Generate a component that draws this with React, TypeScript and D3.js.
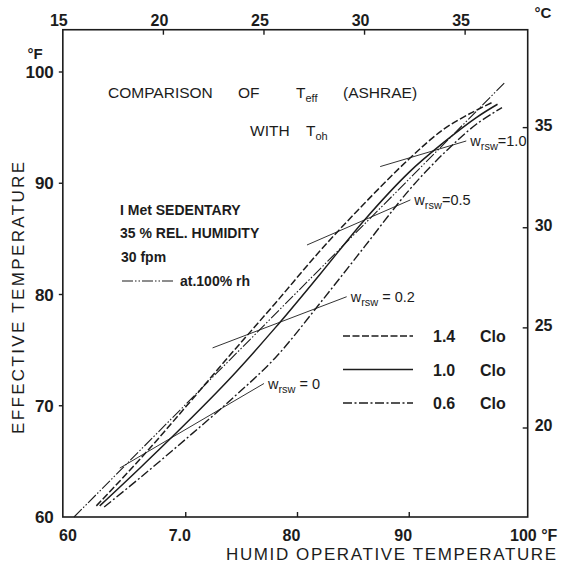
import React from 'react';
import * as d3 from 'd3';

// humid operative temperature (°F) vs effective temperature (°F)
const toh14 = [62.0, 66, 70, 74, 78, 82, 86, 90, 93, 95.5, 97.5];
const et14 = [61.0, 65.3, 69.9, 74.6, 79.2, 83.9, 88.2, 92.2, 94.8, 96.3, 97.3];
const toh10 = [62.3, 66, 70, 74, 78, 82, 86, 90, 93, 96, 97.9];
const et10 = [61.0, 64.5, 68.4, 72.5, 77.0, 81.8, 86.7, 91.0, 93.6, 95.9, 97.1];
const toh06 = [62.7, 66, 70, 74, 78, 82, 86, 90, 93, 96, 98.3];
const et06 = [60.9, 63.6, 67.0, 70.5, 74.3, 79.2, 84.3, 89.4, 92.6, 95.3, 96.8];
// at 100% rh
const toh100 = [60, 98.6];
const et100 = [60, 99.1];

// iso-wettedness lines
const wrswValues = ['0', '0.2', '0.5', '1.0'];
const wrswToh = [[64.1, 77.0], [72.4, 84.4], [80.85, 90.1], [87.4, 95.1]];
const wrswEt = [[64.4, 72.0], [75.2, 79.8], [84.45, 88.5], [91.5, 93.8]];

const fTicks = [60, 70, 80, 90, 100];
const fTickLabels = ['60', '7.0', '80', '90', '100 °F'];
const etTicks = [60, 70, 80, 90, 100];
const cRightTicks = [20, 25, 30, 35];
const cTopTicks = [15, 20, 25, 30, 35];

const cloLabels = ['1.4', '1.0', '0.6'];

const FONT = "'Liberation Sans', Arial, Helvetica, sans-serif";
const INK = '#1c1c1c';

const c2f = (c: number) => (c * 9) / 5 + 32;

const App: React.FC = () => {
  const width = 563;
  const height = 564;

  const x = d3.scaleLinear().domain([60, 100]).range([74, 521]);
  const y = d3.scaleLinear().domain([60, 100]).range([517, 72]);

  const left = x(59.0);
  const right = x(100.6);
  const top = y(103.8);
  const bottom = y(60);

  const line = d3
    .line<[number, number]>()
    .x(d => x(d[0]))
    .y(d => y(d[1]))
    .curve(d3.curveCatmullRom.alpha(0.5));

  const straight = d3
    .line<[number, number]>()
    .x(d => x(d[0]))
    .y(d => y(d[1]));

  const zip = (a: number[], b: number[]) => a.map((v, i) => [v, b[i]] as [number, number]);

  const series = [
    { label: cloLabels[0], pts: zip(toh14, et14), dash: '7 2.5', w: 1.5 },
    { label: cloLabels[1], pts: zip(toh10, et10), dash: undefined, w: 1.5 },
    { label: cloLabels[2], pts: zip(toh06, et06), dash: '9 2.5 2 2.5', w: 1.4 },
  ];
  const rhDash = '11 2 1.5 2 1.5 2';

  const legendX0 = 343;
  const legendX1 = 413;
  const legendTop = 336;
  const legendStep = 33.5;

  return (
    <svg
      width={width}
      height={height}
      style={{ position: 'absolute', left: 0, top: 0, background: '#fff' }}
      fontFamily={FONT}
      fill={INK}
    >
      <rect x={0} y={0} width={width} height={height} fill="#fff" />

      {/* frame */}
      <rect
        x={left}
        y={top}
        width={right - left}
        height={bottom - top}
        fill="none"
        stroke={INK}
        strokeWidth={1.6}
      />

      {/* left axis (°F) */}
      {etTicks.map(t => (
        <g key={`l${t}`}>
          {t > 60 && <line x1={left - 4} x2={left} y1={y(t)} y2={y(t)} stroke={INK} strokeWidth={1.4} />}
          <text x={left - 9} y={y(t) + 6} textAnchor="end" fontSize={17} fontWeight="bold">
            {t}
          </text>
        </g>
      ))}
      <text x={35} y={59} textAnchor="middle" fontSize={15} fontWeight="bold">°F</text>

      {/* bottom axis (°F) */}
      {fTicks.map((t, i) => (
        <g key={`b${t}`}>
          {t > 60 && t < 100 && (
            <line x1={x(t)} x2={x(t)} y1={bottom} y2={bottom - 5} stroke={INK} strokeWidth={1.4} />
          )}
          <text
            x={t === 100 ? x(t) - 11 : x(t) - 6}
            y={bottom + 24}
            textAnchor={t === 100 ? 'start' : 'middle'}
            fontSize={16}
            fontWeight="bold"
          >
            {fTickLabels[i]}
          </text>
        </g>
      ))}

      {/* top axis (°C) */}
      {cTopTicks.map(c => (
        <g key={`t${c}`}>
          {c > 15 && (
            <line x1={x(c2f(c))} x2={x(c2f(c))} y1={top} y2={top + 5} stroke={INK} strokeWidth={1.4} />
          )}
          <text x={x(c2f(c)) - 4} y={top - 4} textAnchor="middle" fontSize={16} fontWeight="bold">
            {c}
          </text>
        </g>
      ))}
      <text x={543} y={18} textAnchor="middle" fontSize={15} fontWeight="bold">°C</text>

      {/* right axis (°C) */}
      {cRightTicks.map(c => (
        <g key={`r${c}`}>
          <line x1={right - 5} x2={right} y1={y(c2f(c))} y2={y(c2f(c))} stroke={INK} strokeWidth={1.4} />
          <text x={right + 7} y={y(c2f(c)) + 3} fontSize={16} fontWeight="bold">
            {c}
          </text>
        </g>
      ))}

      {/* axis titles */}
      <text x={226} y={560} fontSize={17} textLength={330} lengthAdjust="spacing">
        HUMID OPERATIVE TEMPERATURE
      </text>
      <text
        transform={`translate(24, 298) rotate(-90)`}
        textAnchor="middle"
        fontSize={17}
        textLength={272}
        lengthAdjust="spacing"
      >
        EFFECTIVE TEMPERATURE
      </text>

      {/* title */}
      <text y={98} fontSize={15.5}>
        <tspan x={108}>COMPARISON</tspan>
        <tspan x={238}>OF</tspan>
        <tspan x={296}>T</tspan>
        <tspan fontSize={11} dy={4}>eff</tspan>
        <tspan x={343} dy={-4}>(ASHRAE)</tspan>
      </text>
      <text y={136} fontSize={15.5}>
        <tspan x={250}>WITH</tspan>
        <tspan x={306}>T</tspan>
        <tspan fontSize={11} dy={4}>oh</tspan>
      </text>

      {/* conditions */}
      <g fontSize={14} fontWeight="bold">
        <text x={120} y={215}>I Met  SEDENTARY</text>
        <text x={120} y={238}>35 % REL. HUMIDITY</text>
        <text x={121} y={262}>30 fpm</text>
        <text x={180} y={286}>at.100% rh</text>
      </g>
      <line x1={122} x2={173} y1={281} y2={281} stroke={INK} strokeWidth={1.1} strokeDasharray={rhDash} />

      {/* 100% rh line */}
      <path
        d={straight(zip(toh100, et100)) ?? ''}
        fill="none"
        stroke={INK}
        strokeWidth={1.1}
        strokeDasharray={rhDash}
      />

      {/* clothing curves */}
      {series.map(s => (
        <path
          key={s.label}
          d={line(s.pts) ?? ''}
          fill="none"
          stroke={INK}
          strokeWidth={s.w}
          strokeDasharray={s.dash}
        />
      ))}

      {/* w_rsw lines */}
      {wrswValues.map((v, i) => {
        const pts = zip(wrswToh[i], wrswEt[i]);
        const end = pts[1];
        return (
          <g key={`w${v}`}>
            <path d={straight(pts) ?? ''} fill="none" stroke={INK} strokeWidth={0.9} />
            <text x={x(end[0]) + 4} y={y(end[1]) + 5} fontSize={14.5}>
              <tspan>w</tspan>
              <tspan fontSize={11} dy={4}>rsw</tspan>
              <tspan dy={-4}>{i === 0 ? '  = ' : i === 1 ? ' = ' : '='}{v}</tspan>
            </text>
          </g>
        );
      })}

      {/* legend */}
      {series.map((s, i) => {
        const ly = legendTop + i * legendStep;
        return (
          <g key={`lg${s.label}`}>
            <line
              x1={legendX0}
              x2={legendX1}
              y1={ly}
              y2={ly}
              stroke={INK}
              strokeWidth={s.w}
              strokeDasharray={s.dash}
            />
            <text x={433} y={ly + 6} fontSize={16} fontWeight="bold">{s.label}</text>
            <text x={480} y={ly + 6} fontSize={16} fontWeight="bold">Clo</text>
          </g>
        );
      })}
    </svg>
  );
};

export default App;
